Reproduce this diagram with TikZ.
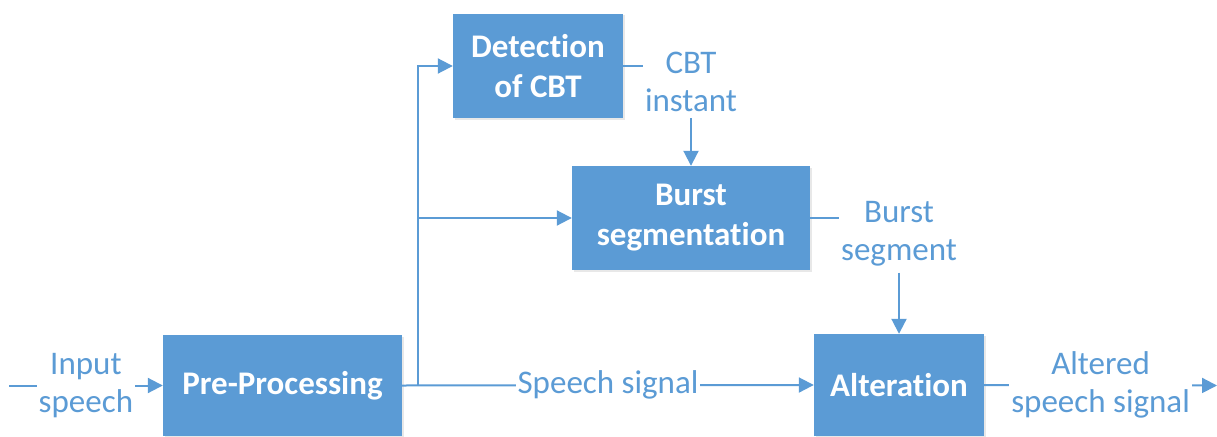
\documentclass[tikz,border=0pt]{standalone}
\usepackage{fontspec}
\setmainfont{Carlito}[Ligatures=NoCommon]
\usetikzlibrary{arrows.meta}
\usetikzlibrary{shadows}

\definecolor{flowblue}{HTML}{5B9BD5}

\begin{document}
\begin{tikzpicture}[x=1pt,y=-1pt,
    block/.style={fill=flowblue, text=white, align=center,
        font=\fontsize{33}{40}\selectfont\bfseries,
        drop shadow={opacity=0.18, shadow xshift=1.5pt, shadow yshift=-1.5pt}},
    lbl/.style={fill=white, text=flowblue, align=center,
        font=\fontsize{33}{38}\selectfont, inner xsep=2pt, inner ysep=6pt},
    wire/.style={draw=flowblue, line width=2pt},
    arr/.style={wire, -{Triangle[length=15pt,width=15pt]}},
]
    \useasboundingbox (0,0) rectangle (1217,436);

    % processing blocks
    \node[block, minimum width=239pt, minimum height=101pt] (pre) at (282.5,385.5) {Pre-Processing};
    \node[block, minimum width=170pt, minimum height=104pt] (det) at (538,66) {Detection\\of CBT};
    \node[block, minimum width=238pt, minimum height=104pt] (burst) at (691,218) {Burst\\segmentation};
    \node[block, minimum width=170pt, minimum height=102pt] (alt) at (899,385) {Alteration};

    % free ends and branch point
    \coordinate (in) at (9,385.5);
    \coordinate (out) at (1217,385.5);
    \coordinate (split) at (418,385.5);

    % main signal path
    \draw[arr] (in) -- node[lbl] {Input\\speech} (pre.west);
    \draw[arr] (pre.east) -- node[lbl] {Speech signal} (alt.west);
    \draw[arr] (alt.east) -- node[lbl] {Altered\\speech signal} (out);

    % branches to the detectors
    \draw[arr] (split) |- (det.west);
    \draw[arr] (split |- burst.west) -- (burst.west);

    % CBT instant
    \node[lbl] (cbt) at (burst.north |- 0,82) {CBT\\instant};
    \draw[wire] (det.east) -- (det.east -| cbt.west);
    \draw[arr] (cbt.south) -- (burst.north);

    % burst segment
    \node[lbl] (seg) at (alt.north |- 0,234) {Burst\\segment};
    \draw[wire] (burst.east) -- (burst.east -| seg.west);
    \draw[arr] (seg.south) -- (alt.north);
\end{tikzpicture}
\end{document}
